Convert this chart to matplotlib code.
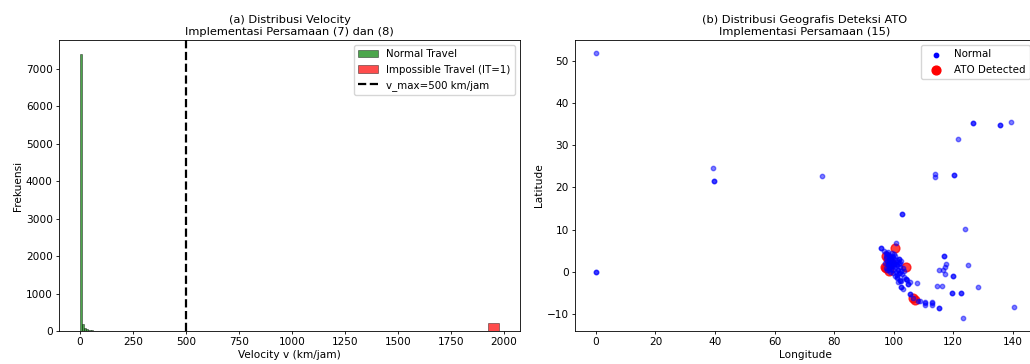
import numpy as np
import matplotlib
matplotlib.use("Agg")
import matplotlib.pyplot as plt

plt.rcParams['font.family'] = ['DejaVu Sans']
plt.rcParams['font.size'] = 7.6

# (a) histogram, counts per velocity bin (km/jam)
normal_edges = [0, 10, 20, 30, 40, 50, 60, 70, 80, 90, 100, 110]
normal_counts = [7390, 190, 70, 40, 25, 15, 10, 8, 6, 5, 12]
impossible_edges = [1926, 1976]
impossible_counts = [200]
v_max = 500

# (b) scatter, normal logins (duplicates = overlapping points)
normal_lon = [0, 0, 0, 39.4, 39.8, 39.8, 75.8, 113.9, 113.9, 120.4, 120.4,
              121.7, 126.8, 126.8, 135.7, 135.7, 139.4, 102.7, 102.7, 124.1,
              116.9, 116.9, 117.6, 117.4, 125.1, 115.3, 116.5, 117.2, 120.0,
              120.0, 114.7, 116.1, 128.4, 119.5, 119.5, 122.5, 122.5, 115.3,
              115.3, 140.5, 123.2, 112.8, 112.8, 110.5, 110.5, 108.3, 105.5,
              105.5, 106.6, 107.7, 104.7, 104.7, 102.5, 102.5, 102.1, 104.4,
              100.9, 95.9, 95.9, 101.0, 105.5, 103.3, 102.0, 104.3, 101.6,
              102.6, 112.8, 110.4, 109.0,
              96.9, 97.3, 97.8, 98.2, 98.6, 98.7, 98.7, 99.1, 98.3, 97.6, 97.9,
              98.5, 99.0, 99.5, 99.8, 100.2, 100.5, 101.0, 101.7, 101.7, 101.5,
              102.2, 102.6, 100.0, 99.4, 98.8, 98.1, 97.5, 97.7, 98.4, 99.2,
              100.4, 101.4, 101.4, 100.9, 100.4, 101.2, 101.8, 102.4, 99.7,
              98.9, 100.0, 99.3, 100.6, 101.2, 102.0, 103.0, 103.6, 102.8,
              103.4, 104.0, 101.3, 102.1, 98.0, 98.9, 99.6, 100.3, 97.2, 98.3,
              99.9, 100.7, 101.9, 97.4, 98.6, 99.5, 100.1]
normal_lat = [51.7, 0.1, 0.1, 24.6, 21.5, 21.5, 22.7, 23.1, 22.5, 22.9, 22.9,
              31.4, 35.2, 35.2, 34.7, 34.7, 35.5, 13.8, 13.8, 10.3,
              3.9, 3.9, 2.0, 1.3, 1.6, 0.4, 0.5, -0.5, -0.9,
              -0.9, -3.2, -3.3, -3.5, -5.0, -5.0, -5.0, -5.0, -8.6,
              -8.6, -8.3, -10.8, -7.1, -7.8, -7.2, -7.8, -6.8, -5.3,
              -5.3, -6.1, -2.7, -2.8, -2.8, -3.5, -3.5, -1.9, -1.9,
              6.9, 5.8, 5.8, -1.1, -2.3, -3.9, -0.3, -1.6, -2.4,
              -2.1, -7.3, -7.0, -6.9,
              5.0, 4.6, 4.2, 4.8, 4.0, 3.6, 3.6, 3.2, 3.0, 3.4, 2.6,
              2.2, 2.6, 2.9, 3.5, 3.0, 2.4, 2.8, 3.1, 3.1, 2.5,
              2.2, 2.6, 1.8, 1.5, 1.2, 1.6, 1.0, 0.4, 0.6, 0.8,
              1.2, 0.5, 0.5, 0.0, -0.9, -0.6, -0.2, 0.3, -0.3,
              0.0, 4.3, 4.5, 3.9, 1.6, 1.2, 1.0, 0.2, -0.5,
              -1.2, -1.7, -1.5, -2.0, 2.0, 1.9, 2.1, 1.4, 2.2, 1.0,
              0.6, 1.9, 1.8, 3.8, 2.9, 3.8, 2.0]

ato_lon = [100.4, 104.1, 97.6, 97.2, 97.4, 98.1, 99.0, 98.3, 106.6, 107.3]
ato_lat = [5.6, 1.2, 0.9, 1.3, 3.9, 3.2, 2.2, 0.3, -6.2, -6.5]

fig = plt.figure(figsize=(10.3, 3.64), dpi=100)
ax1 = fig.add_axes([0.0573, 0.0907, 0.4476, 0.799])
ax2 = fig.add_axes([0.5583, 0.0907, 0.4466, 0.799])

ax1.bar(normal_edges[:-1], normal_counts, width=np.diff(normal_edges), align='edge',
        color='green', alpha=0.7, edgecolor='black', linewidth=0.4, label='Normal Travel')
ax1.bar(impossible_edges[:-1], impossible_counts, width=np.diff(impossible_edges), align='edge',
        color='red', alpha=0.7, edgecolor='black', linewidth=0.4, label='Impossible Travel (IT=1)')
ax1.axvline(v_max, color='black', linestyle='--', linewidth=1.6, label=f'v_max={v_max} km/jam')
ax1.set_title('(a) Distribusi Velocity\nImplementasi Persamaan (7) dan (8)', fontsize=8.2, pad=4)
ax1.set_xlabel('Velocity v (km/jam)', labelpad=2)
ax1.set_ylabel('Frekuensi', labelpad=2)
ax1.set_xticks([0, 250, 500, 750, 1000, 1250, 1500, 1750, 2000])
h, l = ax1.get_legend_handles_labels()
ax1.legend([h[1], h[2], h[0]], [l[1], l[2], l[0]], loc='upper right', fontsize=7.4)

ax2.scatter(ato_lon, ato_lat, s=40, c='red', alpha=0.75, zorder=1, label='ATO Detected')
ax2.scatter(normal_lon, normal_lat, s=10, c='blue', alpha=0.5, zorder=2, label='Normal')
h, l = ax2.get_legend_handles_labels()
leg = ax2.legend(h[::-1], l[::-1], loc='upper right', fontsize=7.4)
for lh in leg.legend_handles:
    lh.set_alpha(1)
ax2.set_title('(b) Distribusi Geografis Deteksi ATO\nImplementasi Persamaan (15)', fontsize=8.2, pad=4)
ax2.set_xlabel('Longitude', labelpad=2)
ax2.set_ylabel('Latitude', labelpad=2)

for ax in (ax1, ax2):
    for sp in ax.spines.values():
        sp.set_linewidth(0.6)
    ax.tick_params(width=0.6, length=2.5, pad=2)

fig.savefig('out.png', dpi=100)
